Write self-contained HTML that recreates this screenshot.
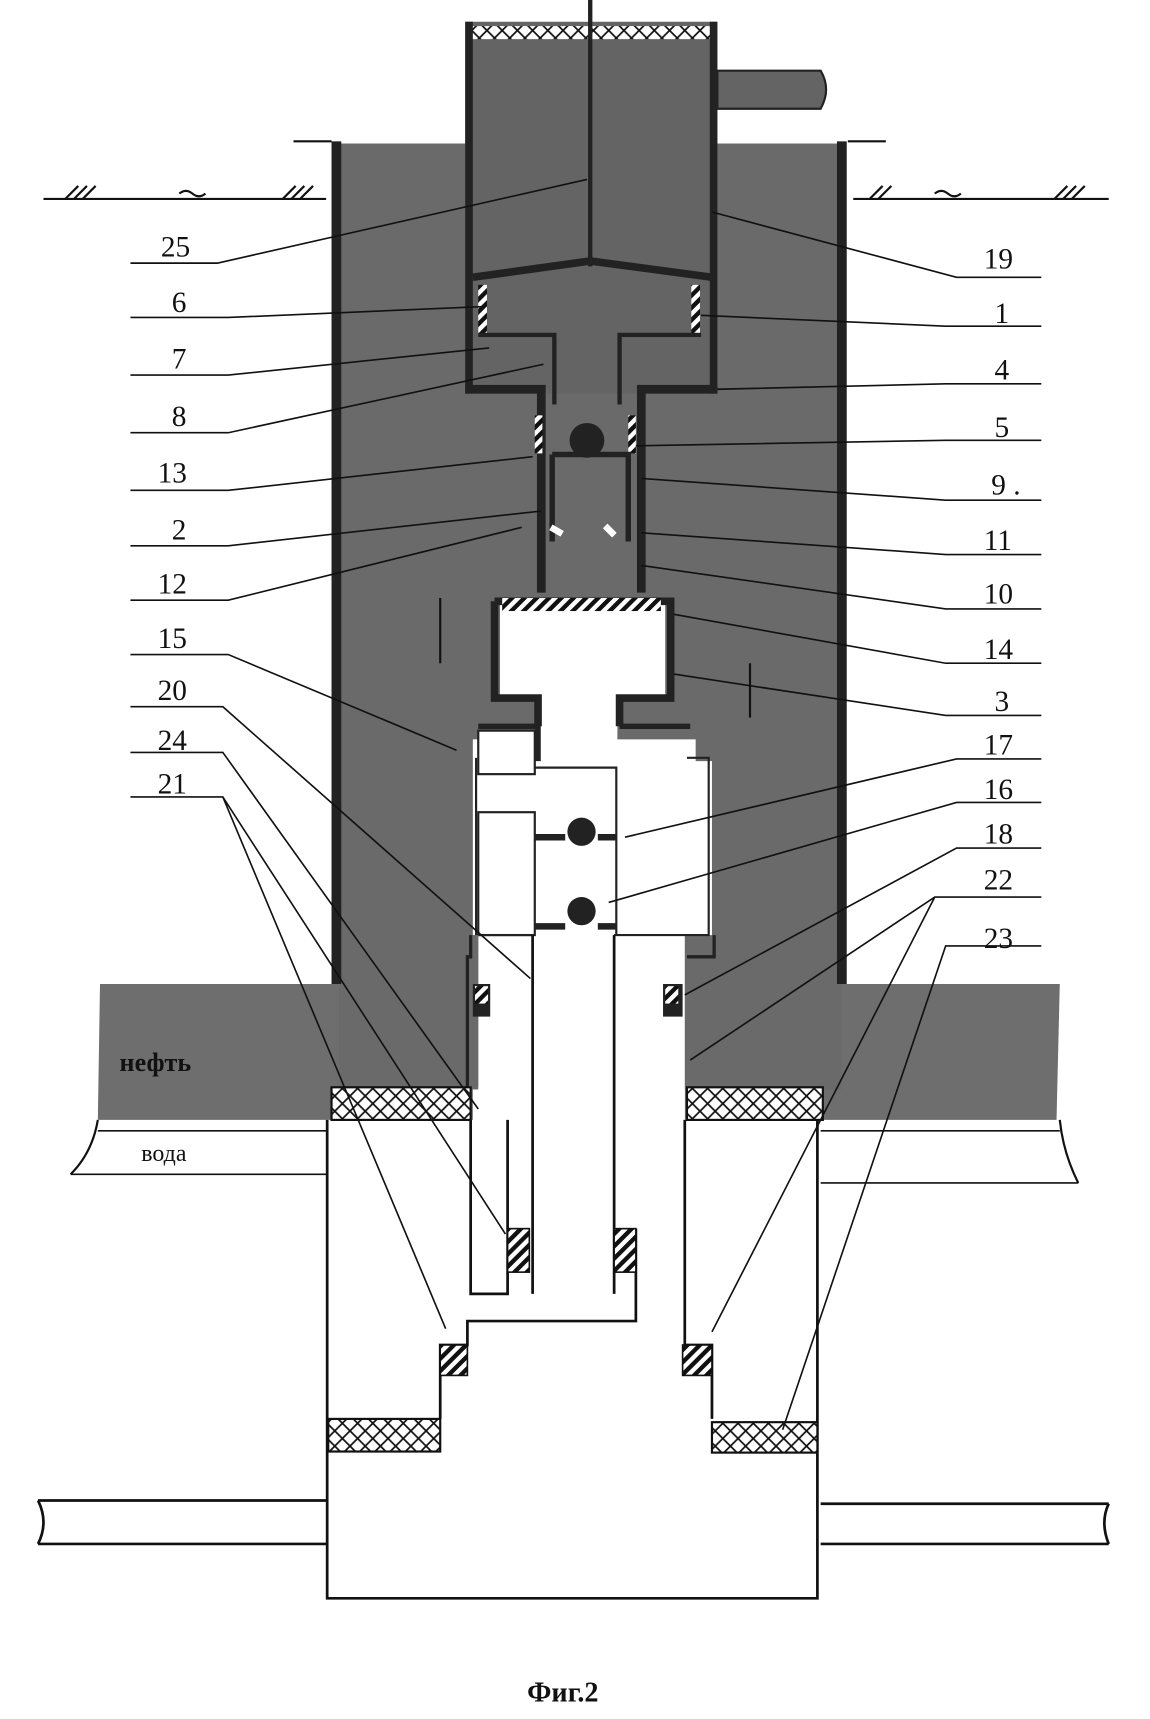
<!DOCTYPE html>
<html><head><meta charset="utf-8"><style>
html,body{margin:0;padding:0;background:#fff}
svg{display:block}
text{font-family:"Liberation Serif","DejaVu Serif",serif;fill:#111}
</style></head><body>
<svg width="1150" height="1719" viewBox="0 0 1058 1581" preserveAspectRatio="none" xmlns="http://www.w3.org/2000/svg">
<defs>
<pattern id="xh" width="14" height="14" patternUnits="userSpaceOnUse">
<rect width="14" height="14" fill="#fff"/>
<path d="M0 0L14 14M14 0L0 14" stroke="#111" stroke-width="1.6"/>
</pattern>
<pattern id="dh" width="8" height="8" patternUnits="userSpaceOnUse" patternTransform="rotate(45)">
<rect width="8" height="8" fill="#fff"/><rect width="4" height="8" fill="#111"/>
</pattern>
</defs>
<g stroke="#111" stroke-width="2" fill="none">
<path d="M40 183H300M785 183H1020"/>
<path d="M60 183l12-12M68 183l12-12M76 183l12-12M260 183l12-12M268 183l12-12M276 183l12-12M800 183l12-12M808 183l12-12M970 183l12-12M978 183l12-12M986 183l12-12"/>
<path d="M165 178q6-5 12 0t12 0M860 178q6-5 12 0t12 0"/>
<path d="M270 130H305M780 130H815"/>
</g>
<path d="M92 905H315V1000H435V1030H90Z" fill="#6e6e6e"/>
<path d="M630 905H975L972 1030H630Z" fill="#6e6e6e"/>
<path d="M90 1030Q85 1060 65 1080M975 1030Q978 1060 992 1088" stroke="#111" stroke-width="2" fill="none"/>
<path d="M65 1080H300M755 1088H992M90 1040H300M755 1040H975" stroke="#111" stroke-width="1.5"/>
<rect x="312" y="132" width="462" height="870" fill="#6a6a6a"/>
<rect x="305" y="130" width="9" height="775" fill="#222"/>
<rect x="770" y="130" width="9" height="775" fill="#222"/>
<rect x="428" y="20" width="232" height="342" fill="#646464"/>
<rect x="434" y="24" width="222" height="12" fill="url(#xh)"/>
<rect x="428" y="20" width="7" height="342" fill="#222"/>
<rect x="653" y="20" width="7" height="342" fill="#222"/>
<rect x="541" y="0" width="4" height="245" fill="#222"/>
<path d="M660 65H755Q765 82 755 100H660Z" fill="#646464" stroke="#222" stroke-width="2"/>
<path d="M435 255L543 240L655 255" stroke="#222" stroke-width="7" fill="none"/>
<rect x="440" y="262" width="8" height="45" fill="url(#dh)"/>
<rect x="636" y="262" width="8" height="45" fill="url(#dh)"/>
<path d="M440 308H510V372M645 308H570V372" stroke="#222" stroke-width="4" fill="none"/>
<path d="M428 358H498V545M660 358H590V545" stroke="#222" stroke-width="8" fill="none"/>
<rect x="492" y="382" width="7" height="35" fill="url(#dh)"/>
<rect x="578" y="382" width="7" height="35" fill="url(#dh)"/>
<circle cx="540" cy="405" r="16" fill="#222"/>
<path d="M508 418H578V498M508 418V498" stroke="#222" stroke-width="5" fill="none"/>
<rect x="506" y="485" width="12" height="6" fill="#fff" transform="rotate(30 512 488)"/>
<rect x="555" y="485" width="12" height="6" fill="#fff" transform="rotate(45 561 488)"/>
<path d="M460 555H612V640H568V680H640V700H655V860H630V1030H440V860H435V680H497V640H460Z" fill="#fff"/>
<path d="M455 553H617V642H570V668M455 553V642H495V668" stroke="#222" stroke-width="7" fill="none"/>
<rect x="462" y="550" width="146" height="12" fill="url(#dh)"/>
<path d="M440 668H495V700M570 668H635" stroke="#222" stroke-width="5" fill="none"/>
<path d="M438 697V860H490M632 697H652V860H565" stroke="#222" stroke-width="2" fill="none"/>
<rect x="440" y="672" width="52" height="40" fill="#fff" stroke="#222" stroke-width="2"/>
<rect x="440" y="747" width="52" height="113" fill="#fff" stroke="#222" stroke-width="2"/>
<path d="M492 706H567V860" stroke="#222" stroke-width="2" fill="none"/>
<path d="M492 770H520M550 770H567M492 852H520M550 852H567" stroke="#222" stroke-width="6"/>
<circle cx="535" cy="765" r="13" fill="#222"/><circle cx="535" cy="838" r="13" fill="#222"/>
<rect x="430" y="860" width="10" height="140" fill="#6a6a6a"/>
<path d="M433 860V880H430V1000M657 860V880H632" stroke="#222" stroke-width="3" fill="none"/>
<rect x="435" y="905" width="16" height="30" fill="#222"/>
<rect x="437" y="907" width="12" height="16" fill="url(#dh)"/>
<rect x="610" y="905" width="18" height="30" fill="#222"/>
<rect x="612" y="907" width="12" height="16" fill="url(#dh)"/>
<rect x="305" y="1000" width="128" height="30" fill="url(#xh)" stroke="#111" stroke-width="2"/>
<rect x="632" y="1000" width="125" height="30" fill="url(#xh)" stroke="#111" stroke-width="2"/>
<g stroke="#111" stroke-width="2.5" fill="none">
<path d="M301 1030V1470H752V1030"/>
<path d="M433 1030V1190H467V1030"/>
<path d="M490 860V1190M565 860V1190M585 1130V1215H430V1237H405V1305M630 1030V1237H655V1305"/>
<path d="M35 1380H300M35 1420H300M755 1383H1020M755 1420H1020"/>
<path d="M35 1380Q45 1400 35 1420M1020 1383Q1012 1400 1020 1420"/>
</g>
<rect x="467" y="1130" width="20" height="40" fill="url(#dh)" stroke="#111" stroke-width="1.5"/>
<rect x="565" y="1130" width="20" height="40" fill="url(#dh)" stroke="#111" stroke-width="1.5"/>
<rect x="405" y="1237" width="25" height="28" fill="url(#dh)" stroke="#111" stroke-width="1.5"/>
<rect x="628" y="1237" width="27" height="28" fill="url(#dh)" stroke="#111" stroke-width="1.5"/>
<rect x="302" y="1305" width="103" height="30" fill="url(#xh)" stroke="#111" stroke-width="2"/>
<rect x="655" y="1308" width="97" height="28" fill="url(#xh)" stroke="#111" stroke-width="2"/>
<text x="110" y="985" font-size="24" font-weight="bold">нефть</text>
<text x="130" y="1068" font-size="22">вода</text>
<g font-size="27">
<text x="148" y="236">25</text><text x="158" y="287">6</text><text x="158" y="339">7</text><text x="158" y="392">8</text>
<text x="145" y="444">13</text><text x="158" y="496">2</text><text x="145" y="546">12</text><text x="145" y="596">15</text>
<text x="145" y="644">20</text><text x="145" y="690">24</text><text x="145" y="730">21</text>
<text x="905" y="247">19</text><text x="915" y="297">1</text><text x="915" y="349">4</text><text x="915" y="402">5</text>
<text x="912" y="455">9 .</text><text x="905" y="506">11</text><text x="905" y="555">10</text><text x="905" y="606">14</text>
<text x="915" y="654">3</text><text x="905" y="694">17</text><text x="905" y="735">16</text><text x="905" y="776">18</text>
<text x="905" y="818">22</text><text x="905" y="872">23</text>
</g>
<g stroke="#111" stroke-width="1.5" fill="none">
<path d="M120 242H200L540 165M120 292H210L445 282M120 345H210L450 320M120 398H210L500 335M120 451H210L490 420M120 502H210L498 470M120 552H210L480 485M120 602H210L420 690M120 650H205L488 900M120 692H205L440 1020M120 733H205L465 1135M205 733L410 1222"/>
<path d="M958 255H880L655 195M958 300H870L645 290M958 353H870L660 358M958 405H870L585 410M958 460H870L590 440M958 510H870L590 490M958 560H870L590 520M958 610H870L620 565M958 658H870L620 620M958 698H880L575 770M958 738H880L560 830M958 780H880L630 915M958 825H860L635 975M860 825L655 1225M958 870H870L720 1315"/>
</g>
<path d="M405 550V610M690 610V660" stroke="#111" stroke-width="2"/>
<text x="485" y="1565" font-size="26" font-weight="bold">Фиг.2</text>
</svg>
</body></html>
